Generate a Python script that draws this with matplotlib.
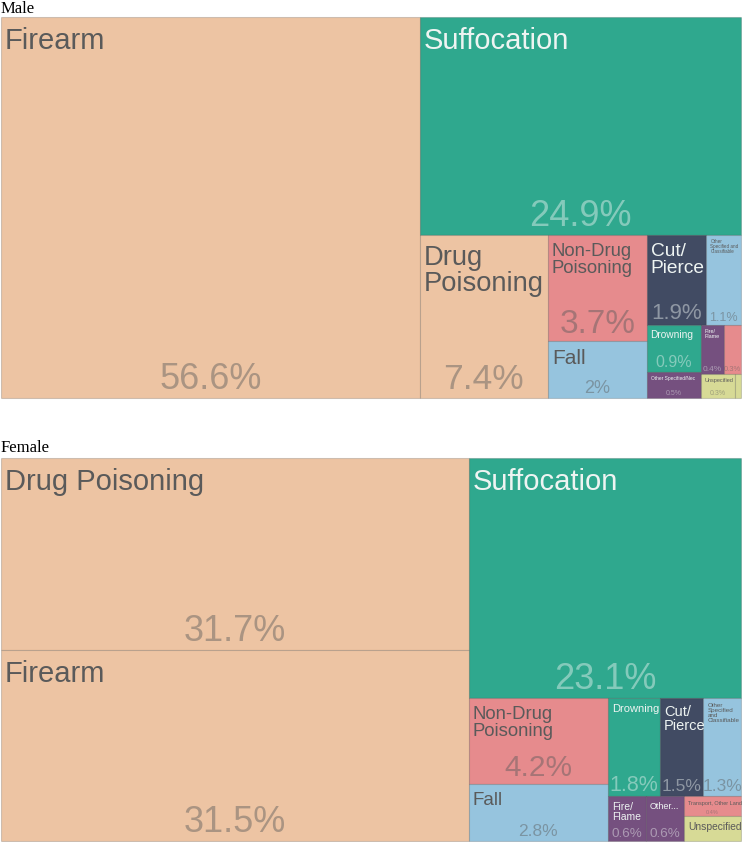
import matplotlib.pyplot as plt
from matplotlib.patches import Rectangle

# share of injury deaths by mechanism (%)
male_names = ["Firearm", "Suffocation", "Drug Poisoning", "Non-Drug Poisoning", "Fall",
              "Cut/Pierce", "Other Specified and Classifiable", "Drowning",
              "Other Specified/Nec", "Fire/Flame", "Transport, Other Land", "Unspecified",
              "Natural/Environment"]
male_values = [56.6, 24.9, 7.4, 3.7, 2.0, 1.9, 1.1, 0.9, 0.5, 0.4, 0.3, 0.3, 0.05]
male_labels = ["Firearm", "Suffocation", "Drug\nPoisoning", "Non-Drug\nPoisoning", "Fall",
               "Cut/\nPierce", "Other\nSpecified and\nClassifiable", "Drowning",
               "Other Specified/Nec", "Fire/\nFlame", "", "Unspecified", ""]
male_groups = [1, 1, 1, 2, 2, 2, 2, 1, 1]

female_names = ["Drug Poisoning", "Firearm", "Suffocation", "Non-Drug Poisoning", "Fall",
                "Drowning", "Cut/Pierce", "Other Specified and Classifiable", "Fire/Flame",
                "Other Specified/Nec", "Transport, Other Land", "Unspecified"]
female_values = [31.7, 31.5, 23.1, 4.2, 2.8, 1.8, 1.5, 1.3, 0.6, 0.6, 0.4, 0.5]
female_labels = ["Drug Poisoning", "Firearm", "Suffocation", "Non-Drug\nPoisoning", "Fall",
                 "Drowning", "Cut/\nPierce", "Other\nSpecified\nand\nClassifiable",
                 "Fire/\nFlame", "Other...", "Transport, Other Land", "Unspecified"]
female_groups = [2, 1, 2, 3, 1, 1, 2]
female_hide_pct = ["Unspecified"]

colors = {
    "Firearm": "#EDC4A3", "Drug Poisoning": "#EDC4A3",
    "Suffocation": "#2FA88E", "Drowning": "#2FA88E",
    "Non-Drug Poisoning": "#E68B8D", "Transport, Other Land": "#E68B8D",
    "Fall": "#96C4DE", "Other Specified and Classifiable": "#96C4DE",
    "Cut/Pierce": "#414B63",
    "Fire/Flame": "#75507F", "Other Specified/Nec": "#75507F",
    "Unspecified": "#D7DA96", "Natural/Environment": "#D7DA96",
}
dark_bg = ["Suffocation", "Drowning", "Cut/Pierce", "Fire/Flame", "Other Specified/Nec"]

# font sizes (name, percent) per cell
male_sizes = {
    "Firearm": (21, 26), "Suffocation": (21, 26), "Drug Poisoning": (19.7, 25.5),
    "Non-Drug Poisoning": (13.3, 24), "Fall": (15, 13), "Cut/Pierce": (13.8, 16),
    "Other Specified and Classifiable": (3.3, 9), "Drowning": (7.3, 11.5),
    "Other Specified/Nec": (3.5, 5), "Fire/Flame": (4, 6), "Transport, Other Land": (4, 5.5),
    "Unspecified": (4, 5), "Natural/Environment": (0, 0),
}
female_sizes = {
    "Drug Poisoning": (21, 26), "Firearm": (21, 26), "Suffocation": (21, 26),
    "Non-Drug Poisoning": (13.3, 21.5), "Fall": (13.5, 12.5), "Drowning": (8, 15.5),
    "Cut/Pierce": (10.5, 12.5), "Other Specified and Classifiable": (4.5, 12.5),
    "Fire/Flame": (7.5, 9.7), "Other Specified/Nec": (6.5, 9.7),
    "Transport, Other Land": (4, 4), "Unspecified": (7.4, 0),
}


def layout(values, groups, x, y, w, h):
    # rows are laid along the shorter side of the space that is left
    rects = []
    left = sum(values)
    i = 0
    for n in groups:
        row = values[i:i + n]
        s = sum(row)
        if w >= h:
            cw = w * s / left
            yy = y
            for v in row:
                rh = h * v / s
                rects.append((x, yy, cw, rh))
                yy += rh
            x += cw
            w -= cw
        else:
            rh = h * s / left
            xx = x
            for v in row:
                rw = w * v / s
                rects.append((xx, y, rw, rh))
                xx += rw
            y += rh
            h -= rh
        left -= s
        i += n
    return rects


def draw_panel(ax, names, values, labels, groups, sizes, box, hide=()):
    rects = layout(values, groups, *box)
    for name, v, lab, (x, y, w, h) in zip(names, values, labels, rects):
        ax.add_patch(Rectangle((x, y), w, h, facecolor=colors[name],
                               edgecolor=(0, 0, 0, 0.16), linewidth=0.8))
        tc = "#EEF4F2" if name in dark_bg else "#5A5A5A"
        ns, ps = sizes[name]
        if lab and ns > 0:
            npx = ns * 100 / 72
            ax.text(x + 4, y + 3 + 0.25 * npx, lab, ha="left", va="top", fontsize=ns,
                    color=tc, linespacing=1.0, family="Liberation Sans")
        if ps > 0 and name not in hide:
            px = ps * 100 / 72
            ax.text(x + w / 2, y + h - 0.22 * px - 1, f"{v:g}%", ha="center",
                    va="baseline", fontsize=ps, color=tc, alpha=0.45,
                    family="Liberation Sans")


fig = plt.figure(figsize=(7.42, 8.42), dpi=100)
ax = fig.add_axes([0, 0, 1, 1])
ax.set_xlim(0, 742)
ax.set_ylim(842, 0)
ax.axis("off")

ax.text(1, 1, "Male", ha="left", va="top", fontsize=12, family="Liberation Serif")
draw_panel(ax, male_names, male_values, male_labels, male_groups, male_sizes,
           (1, 17, 740, 381))

ax.text(1, 440, "Female", ha="left", va="top", fontsize=12, family="Liberation Serif")
draw_panel(ax, female_names, female_values, female_labels, female_groups, female_sizes,
           (1, 458, 740, 383), hide=female_hide_pct)

fig.savefig("out.png", dpi=100)
